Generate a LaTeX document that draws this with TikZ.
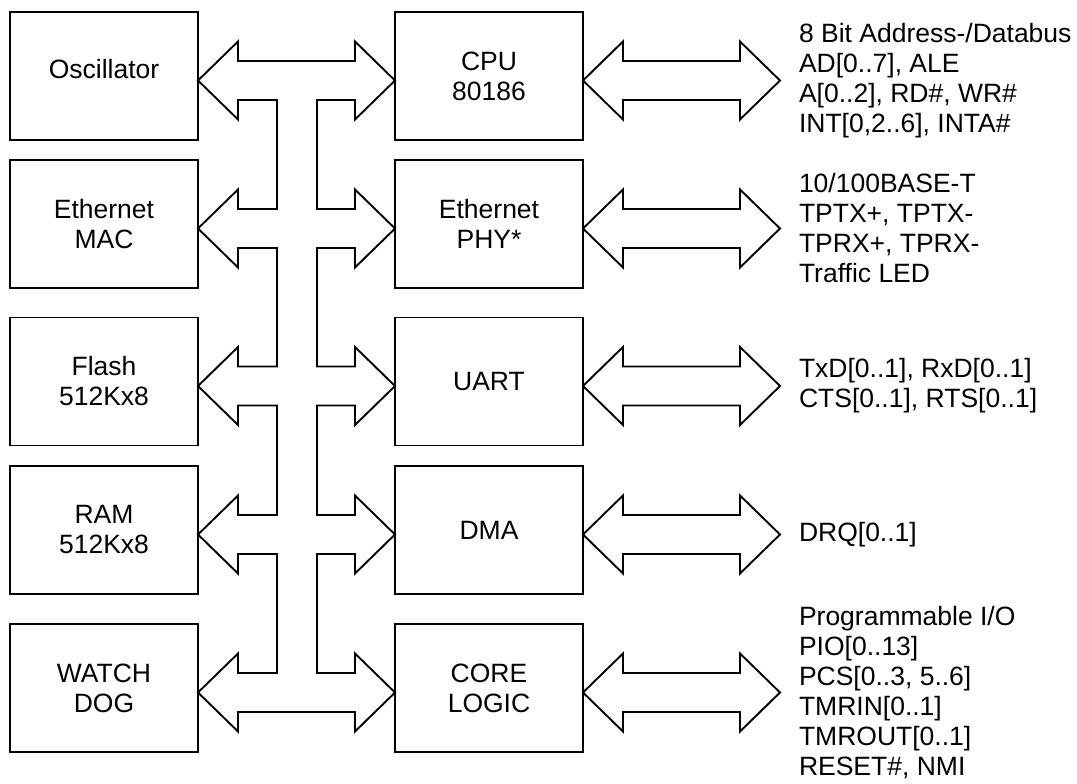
\documentclass[tikz,border=0pt]{standalone}
\usepackage{fontspec}
\setmainfont{Liberation Sans}
\usepackage{tikz}
\usetikzlibrary{positioning,calc}

% outline double arrow, #1 = left tip, #2 = right tip
\newcommand{\dblarrow}[2]{%
  \draw[bus] (#1) -- ++(40,39) -- ++(0,-19.5) -- ($(#2)+(-40,19.5)$) -- ++(0,19.5) -- (#2)
    -- ++(-40,-39) -- ++(0,19.5) -- ($(#1)+(40,-19.5)$) -- ++(0,-19.5) -- cycle;}

\begin{document}
\begin{tikzpicture}[x=1pt, y=1pt, node distance=385pt,
    font=\fontsize{26.5}{30}\selectfont,
    blk/.style={draw, line width=1.9pt, minimum width=188pt, minimum height=128pt,
      outer sep=0pt, align=center},
    sig/.style={align=left, inner xsep=19pt, inner ysep=0pt, outer sep=0pt},
    bus/.style={draw, line width=1.9pt, line join=miter}]
        \useasboundingbox (0,0) rectangle (1077,-784);

        \node[blk] (osc) at (104,-76) {\raisebox{7pt}[\height][\depth]{Oscillator}};
        \node[blk] (mac) at (104,-224) {Ethernet\\MAC};
        \node[blk] (flash) at (104,-381.5) {Flash\\512Kx8};
        \node[blk] (ram) at (104,-530) {RAM\\512Kx8};
        \node[blk] (wdog) at (104,-688) {WATCH\\DOG};

        \node[blk] (cpu) [right of=osc] {CPU\\80186};
        \node[blk] (phy) [right of=mac] {Ethernet\\PHY*};
        \node[blk] (uart) [right of=flash] {UART};
        \node[blk] (dma) [right of=ram] {DMA};
        \node[blk] (core) [right of=wdog] {CORE\\LOGIC};

        \node[sig] (cpuio) [right=197pt of cpu, yshift=-4.5pt]
          {8 Bit Address-/Databus\\AD[0..7], ALE\\A[0..2], RD\#, WR\#\\INT[0,2..6], INTA\#};
        \node[sig] (phyio) [right=197pt of phy, yshift=-4.5pt]
          {10/100BASE-T\\TPTX+, TPTX-\\TPRX+, TPRX-\\Traffic LED};
        \node[sig] (uartio) [right=197pt of uart, yshift=-4.5pt]
          {TxD[0..1], RxD[0..1]\\CTS[0..1], RTS[0..1]};
        \node[sig] (dmaio) [right=197pt of dma, yshift=-4.5pt] {DRQ[0..1]};
        \node[sig] (coreio) [right=197pt of core, yshift=-4.5pt]
          {Programmable I/O\\PIO[0..13]\\PCS[0..3, 5..6]\\TMRIN[0..1]\\TMROUT[0..1]\\RESET\#, NMI};

        % ends of the bus branches
        \coordinate (busosc) at ([yshift=-4.5pt]osc.east);
        \coordinate (busmac) at ([yshift=-4.5pt]mac.east);
        \coordinate (busflash) at ([yshift=-4.5pt]flash.east);
        \coordinate (busram) at ([yshift=-4.5pt]ram.east);
        \coordinate (buswdog) at ([yshift=-4.5pt]wdog.east);
        \coordinate (buscpu) at ([yshift=-4.5pt]cpu.west);
        \coordinate (busphy) at ([yshift=-4.5pt]phy.west);
        \coordinate (busuart) at ([yshift=-4.5pt]uart.west);
        \coordinate (busdma) at ([yshift=-4.5pt]dma.west);
        \coordinate (buscore) at ([yshift=-4.5pt]core.west);

        % internal bus
        \draw[bus] (busosc) -- ++(40,39) -- ++(0,-19.5) -- ($(buscpu)+(-40,19.5)$) -- ++(0,19.5)
            -- (buscpu) -- ++(-40,-39) -- ++(0,19.5) -- ($(buscpu)+(-78,-19.5)$)
          -- ($(busphy)+(-78,19.5)$) -- ++(38,0) -- ++(0,19.5) -- (busphy)
            -- ++(-40,-39) -- ++(0,19.5) -- ++(-38,0)
          -- ($(busuart)+(-78,19.5)$) -- ++(38,0) -- ++(0,19.5) -- (busuart)
            -- ++(-40,-39) -- ++(0,19.5) -- ++(-38,0)
          -- ($(busdma)+(-78,19.5)$) -- ++(38,0) -- ++(0,19.5) -- (busdma)
            -- ++(-40,-39) -- ++(0,19.5) -- ++(-38,0)
          -- ($(buscore)+(-78,19.5)$) -- ++(38,0) -- ++(0,19.5) -- (buscore)
            -- ++(-40,-39) -- ++(0,19.5)
          -- ($(buswdog)+(40,-19.5)$) -- ++(0,-19.5) -- (buswdog)
            -- ++(40,39) -- ++(0,-19.5) -- ++(39,0)
          -- ($(busram)+(79,-19.5)$) -- ++(-39,0) -- ++(0,-19.5) -- (busram)
            -- ++(40,39) -- ++(0,-19.5) -- ++(39,0)
          -- ($(busflash)+(79,-19.5)$) -- ++(-39,0) -- ++(0,-19.5) -- (busflash)
            -- ++(40,39) -- ++(0,-19.5) -- ++(39,0)
          -- ($(busmac)+(79,-19.5)$) -- ++(-39,0) -- ++(0,-19.5) -- (busmac)
            -- ++(40,39) -- ++(0,-19.5) -- ++(39,0)
          -- ($(busosc)+(79,-19.5)$) -- ++(-39,0) -- ++(0,-19.5) -- cycle;

        % external signals
        \coordinate (cpuout) at (cpu.east |- cpuio.west);
        \coordinate (phyout) at (phy.east |- phyio.west);
        \coordinate (uartout) at (uart.east |- uartio.west);
        \coordinate (dmaout) at (dma.east |- dmaio.west);
        \coordinate (coreout) at (core.east |- coreio.west);
        \dblarrow{cpuout}{cpuio.west}
        \dblarrow{phyout}{phyio.west}
        \dblarrow{uartout}{uartio.west}
        \dblarrow{dmaout}{dmaio.west}
        \dblarrow{coreout}{coreio.west}
    \end{tikzpicture}
\end{document}
